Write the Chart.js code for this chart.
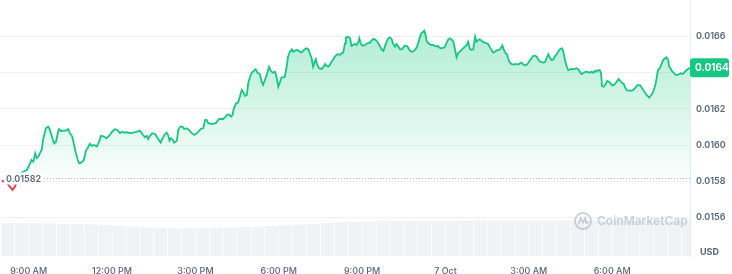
<!DOCTYPE html>
<html lang="en">
<head>
<meta charset="UTF-8">
<title>Price chart 24h</title>
<script src="https://cdn.jsdelivr.net/npm/chart.js"></script>
<style>
  html, body { margin: 0; padding: 0; background: #fff; }
  #wrap { width: 732px; height: 274px; }
</style>
</head>
<body>
<div id="wrap"><canvas id="priceChart" width="732" height="274"></canvas></div>
<script>
// time of each sample, in minutes after 6 Oct 8:00 AM
const times = [
  2,14,25,30,35,41,48,56,63,66,70,74,77,81,84,88,91,97,102,106,
  111,115,119,122,125,130,135,140,145,149,154,158,162,166,169,174,179,184,187,192,
  196,201,207,212,216,223,228,234,240,246,251,257,262,266,272,279,286,293,300,307,
  311,315,318,322,327,333,336,340,345,348,353,358,361,364,367,371,374,380,383,387,
  392,396,401,406,412,418,423,428,432,437,441,444,448,454,458,464,468,471,475,480,
  484,489,493,497,500,503,508,512,516,520,523,527,531,534,538,541,546,550,554,559,
  563,566,570,574,577,579,583,587,592,595,599,603,606,610,613,617,620,624,628,631,
  635,639,642,646,649,653,656,660,664,667,671,674,678,680,683,687,693,696,700,703,
  707,710,714,718,721,725,728,732,736,739,743,745,749,754,757,761,764,768,772,774,
  777,781,786,791,797,800,804,808,813,817,822,826,829,833,836,840,844,847,851,854,
  858,862,865,869,872,876,879,883,887,890,894,898,901,905,908,912,914,917,919,923,
  926,930,933,937,940,944,946,950,955,959,962,966,970,973,977,980,984,987,991,995,
  998,1002,1006,1009,1013,1016,1020,1024,1027,1031,1034,1038,1041,1045,1049,1052,1056,1060,1063,1067,
  1070,1074,1078,1081,1083,1086,1090,1093,1095,1099,1103,1106,1110,1114,1117,1121,1124,1128,1131,1135,
  1139,1142,1146,1149,1153,1157,1160,1164,1168,1171,1175,1178,1182,1185,1189,1193,1196,1200,1203,1207,
  1211,1214,1218,1222,1225,1229,1232,1236,1239,1243,1247,1250,1254,1257,1261,1265,1268,1272,1275,1279,
  1283,1286,1290,1293,1296,1298,1302,1306,1309,1313,1317,1320,1324,1327,1331,1334,1338,1342,1345,1347,
  1351,1355,1358,1362,1365,1369,1373,1376,1380,1383,1387,1391,1394,1398,1400,1403,1406,1410,1414,1417,
  1419,1423,1427,1430,1434,1437,1441,1443,1447,1450,1454,1457,1461,1465,1468,1472,1475,1479,1483,1486,
  1488
];

// price in USD
const prices = [
  0.015805,0.015789,0.015753,0.015770,0.015803,0.015836,0.015854,0.015863,0.015900,0.015918,0.015909,0.015955,0.015928,0.015937,0.015955,0.015974,0.016029,0.016093,0.016102,0.016084,
  0.016038,0.016010,0.016019,0.016056,0.016088,0.016078,0.016080,0.016080,0.016088,0.016066,0.016047,0.016001,0.015955,0.015918,0.015900,0.015904,0.015918,0.015974,0.015983,0.016007,
  0.015996,0.016001,0.015992,0.016019,0.016051,0.016047,0.016038,0.016052,0.016074,0.016088,0.016084,0.016066,0.016074,0.016069,0.016071,0.016066,0.016069,0.016073,0.016080,0.016056,
  0.016043,0.016051,0.016034,0.016051,0.016066,0.016062,0.016047,0.016032,0.016014,0.016032,0.016056,0.016069,0.016056,0.016025,0.016038,0.016029,0.016014,0.016025,0.016084,0.016102,
  0.016102,0.016088,0.016093,0.016084,0.016066,0.016056,0.016066,0.016078,0.016091,0.016093,0.016139,0.016139,0.016121,0.016117,0.016117,0.016121,0.016135,0.016143,0.016144,0.016144,
  0.016154,0.016168,0.016168,0.016157,0.016166,0.016203,0.016231,0.016234,0.016267,0.016304,0.016295,0.016271,0.016277,0.016341,0.016377,0.016396,0.016410,0.016418,0.016399,0.016392,
  0.016350,0.016332,0.016359,0.016387,0.016414,0.016432,0.016410,0.016399,0.016405,0.016377,0.016322,0.016350,0.016374,0.016374,0.016377,0.016432,0.016488,0.016515,0.016528,0.016515,
  0.016521,0.016525,0.016521,0.016515,0.016510,0.016521,0.016528,0.016534,0.016528,0.016506,0.016479,0.016432,0.016460,0.016473,0.016442,0.016424,0.016420,0.016429,0.016447,0.016436,
  0.016432,0.016442,0.016460,0.016473,0.016488,0.016497,0.016502,0.016497,0.016506,0.016510,0.016561,0.016594,0.016598,0.016589,0.016547,0.016552,0.016558,0.016552,0.016570,0.016589,
  0.016558,0.016548,0.016552,0.016561,0.016565,0.016576,0.016585,0.016583,0.016570,0.016552,0.016528,0.016519,0.016543,0.016570,0.016589,0.016594,0.016583,0.016558,0.016543,0.016558,
  0.016543,0.016528,0.016528,0.016537,0.016548,0.016547,0.016539,0.016521,0.016515,0.016517,0.016525,0.016539,0.016561,0.016598,0.016617,0.016625,0.016631,0.016607,0.016576,0.016561,
  0.016556,0.016552,0.016552,0.016547,0.016543,0.016547,0.016539,0.016534,0.016536,0.016543,0.016561,0.016583,0.016589,0.016583,0.016570,0.016534,0.016484,0.016506,0.016515,0.016525,
  0.016534,0.016543,0.016552,0.016570,0.016528,0.016525,0.016528,0.016598,0.016570,0.016580,0.016583,0.016576,0.016569,0.016565,0.016561,0.016558,0.016539,0.016521,0.016510,0.016515,
  0.016521,0.016525,0.016528,0.016543,0.016550,0.016525,0.016506,0.016502,0.016479,0.016455,0.016446,0.016444,0.016447,0.016446,0.016444,0.016451,0.016455,0.016446,0.016440,0.016442,
  0.016455,0.016466,0.016479,0.016491,0.016493,0.016488,0.016473,0.016460,0.016458,0.016455,0.016457,0.016479,0.016501,0.016484,0.016469,0.016473,0.016488,0.016502,0.016515,0.016528,
  0.016534,0.016521,0.016469,0.016432,0.016414,0.016418,0.016420,0.016418,0.016420,0.016424,0.016418,0.016405,0.016392,0.016396,0.016403,0.016405,0.016402,0.016399,0.016405,0.016399,
  0.016409,0.016405,0.016414,0.016414,0.016396,0.016326,0.016322,0.016337,0.016354,0.016350,0.016337,0.016330,0.016332,0.016341,0.016354,0.016365,0.016352,0.016341,0.016337,0.016322,
  0.016304,0.016300,0.016300,0.016300,0.016304,0.016313,0.016326,0.016332,0.016330,0.016319,0.016304,0.016289,0.016277,0.016267,0.016262,0.016271,0.016282,0.016304,0.016341,0.016387,
  0.016414,0.016424,0.016451,0.016469,0.016479,0.016484,0.016469,0.016432,0.016418,0.016405,0.016396,0.016387,0.016387,0.016392,0.016396,0.016392,0.016399,0.016410,0.016418,0.016424,
  0.016426
];

// volume, one bar per half hour (relative units)
const volumes = [
  5.20,5.16,5.10,5.08,5.03,5.00,4.95,4.84,4.72,4.60,4.48,4.40,4.33,4.34,4.38,4.42,4.48,4.53,4.58,4.70,
  4.81,4.92,5.03,5.16,5.27,5.36,5.39,5.42,5.44,5.45,5.47,5.48,5.49,5.50,5.51,5.52,5.52,5.52,5.52,5.52,
  5.52,5.52,5.52,5.52,5.52,5.52,5.52,5.52,5.52,5.52
];
const volTimes = volumes.map((v, i) => 15 + i * 30);

const openPrice = 0.01582;
const xTicks = [60, 240, 420, 600, 780, 960, 1140, 1320];
const xTickLabels = ['9:00 AM', '12:00 PM', '3:00 PM', '6:00 PM', '9:00 PM', '7 Oct', '3:00 AM', '6:00 AM'];
const yTicks = [0.0156, 0.0158, 0.0160, 0.0162, 0.0164, 0.0166];
const yTickLabels = ['0.0156', '0.0158', '0.0160', '0.0162', '0.0164', '0.0166'];

const GREEN = '#16c784';
const RED = '#ea3943';
const GREY = '#58667e';
const FONT = 'Inter, "Noto Sans", sans-serif';

const overlay = {
  id: 'overlay',
  afterDatasetsDraw(chart) {
    const { ctx, chartArea: area, scales: { y } } = chart;
    const by = Math.round(y.getPixelForValue(openPrice)) + 0.5;
    const label = openPrice.toFixed(5);
    ctx.save();
    ctx.font = '600 9px ' + FONT;
    const w = ctx.measureText(label).width;
    const bx = area.left + 4;
    ctx.strokeStyle = '#a6b0c3';
    ctx.lineWidth = 1;
    ctx.setLineDash([1, 2]);
    ctx.beginPath();
    ctx.moveTo(bx + w + 5, by);
    ctx.lineTo(area.right, by);
    ctx.stroke();
    ctx.setLineDash([]);
    ctx.fillStyle = '#fff';
    ctx.fillRect(bx, by - 6, w + 4, 12);
    ctx.fillStyle = GREY;
    ctx.textBaseline = 'middle';
    ctx.fillText(label, bx + 2, by + 0.5);
    ctx.restore();
  },
  afterDraw(chart) {
    const { ctx, chartArea: area, scales: { y } } = chart;
    const last = prices[prices.length - 1];
    const py = y.getPixelForValue(last);
    ctx.save();
    // current price tag
    ctx.fillStyle = GREEN;
    ctx.beginPath();
    if (ctx.roundRect) ctx.roundRect(area.right, py - 9.5, 39, 19, 3);
    else ctx.rect(area.right, py - 9.5, 39, 19);
    ctx.fill();
    ctx.fillStyle = '#fff';
    ctx.font = '700 10px ' + FONT;
    ctx.textBaseline = 'middle';
    ctx.fillText(last.toFixed(4), area.right + 5, py + 0.5);

    // watermark
    const cx = area.right - 107, cy = area.bottom - 35;
    ctx.strokeStyle = 'rgba(166,176,195,0.6)';
    ctx.lineWidth = 1.8;
    ctx.beginPath();
    ctx.arc(cx, cy, 8, 0, Math.PI * 2);
    ctx.stroke();
    ctx.beginPath();
    ctx.moveTo(cx - 4.5, cy + 3);
    ctx.lineTo(cx - 2.2, cy - 3);
    ctx.lineTo(cx, cy + 1.5);
    ctx.lineTo(cx + 2.2, cy - 3);
    ctx.lineTo(cx + 3.5, cy + 2);
    ctx.lineTo(cx + 5.5, cy + 1);
    ctx.stroke();
    ctx.fillStyle = 'rgba(166,176,195,0.6)';
    ctx.font = '600 12px ' + FONT;
    ctx.fillText('CoinMarketCap', cx + 14, cy + 0.5);

    // unit
    ctx.fillStyle = GREY;
    ctx.font = '700 9px ' + FONT;
    ctx.fillText('USD', area.right + 10, area.bottom - 4);
    ctx.restore();
  }
};

new Chart(document.getElementById('priceChart'), {
  type: 'line',
  data: {
    datasets: [
      {
        type: 'line',
        data: times.map((t, i) => ({ x: t, y: prices[i] })),
        yAxisID: 'y',
        order: 1,
        borderColor: GREEN,
        borderWidth: 1.8,
        pointRadius: 0,
        tension: 0,
        segment: {
          borderColor: c => (c.p0.parsed.y < openPrice || c.p1.parsed.y < openPrice) ? RED : GREEN
        },
        fill: { target: { value: openPrice }, below: 'rgba(234,57,67,0.08)' },
        backgroundColor: c => {
          const { ctx, chartArea, scales } = c.chart;
          if (!chartArea) return 'rgba(22,199,132,0.15)';
          const top = scales.y.getPixelForValue(0.0166);
          const bottom = scales.y.getPixelForValue(openPrice);
          const g = ctx.createLinearGradient(0, top, 0, bottom);
          g.addColorStop(0, 'rgba(22,199,132,0.32)');
          g.addColorStop(1, 'rgba(22,199,132,0.02)');
          return g;
        }
      },
      {
        type: 'bar',
        data: volTimes.map((t, i) => ({ x: t, y: volumes[i] })),
        yAxisID: 'vol',
        order: 2,
        backgroundColor: '#f0f2f5',
        barPercentage: 0.95,
        categoryPercentage: 1
      }
    ]
  },
  options: {
    responsive: false,
    animation: false,
    devicePixelRatio: 1,
    layout: { padding: 0 },
    plugins: { legend: { display: false }, tooltip: { enabled: false } },
    scales: {
      x: {
        type: 'linear',
        min: -2,
        max: 1488,
        offset: false,
        grid: { display: false },
        border: { display: false },
        ticks: {
          autoSkip: false,
          maxRotation: 0,
          padding: 2,
          color: GREY,
          font: { family: FONT, size: 9, weight: '500' },
          callback: (v, i) => xTickLabels[i]
        },
        afterBuildTicks: s => { s.ticks = xTicks.map(v => ({ value: v })); },
        afterFit: s => { s.height = 18; s.paddingLeft = 0; s.paddingRight = 0; }
      },
      y: {
        position: 'right',
        min: 0.015389,
        max: 0.0168,
        grid: { color: '#eff2f5', drawTicks: false },
        border: { color: '#e6e9ee' },
        ticks: {
          padding: 6,
          color: GREY,
          font: { family: FONT, size: 9, weight: '600' },
          callback: (v, i) => yTickLabels[i]
        },
        afterBuildTicks: s => { s.ticks = yTicks.map(v => ({ value: v })); },
        afterFit: s => { s.width = 42; s.paddingTop = 0; s.paddingBottom = 0; }
      },
      vol: {
        display: false,
        min: 0,
        max: 40
      }
    }
  },
  plugins: [overlay]
});
</script>
</body>
</html>
